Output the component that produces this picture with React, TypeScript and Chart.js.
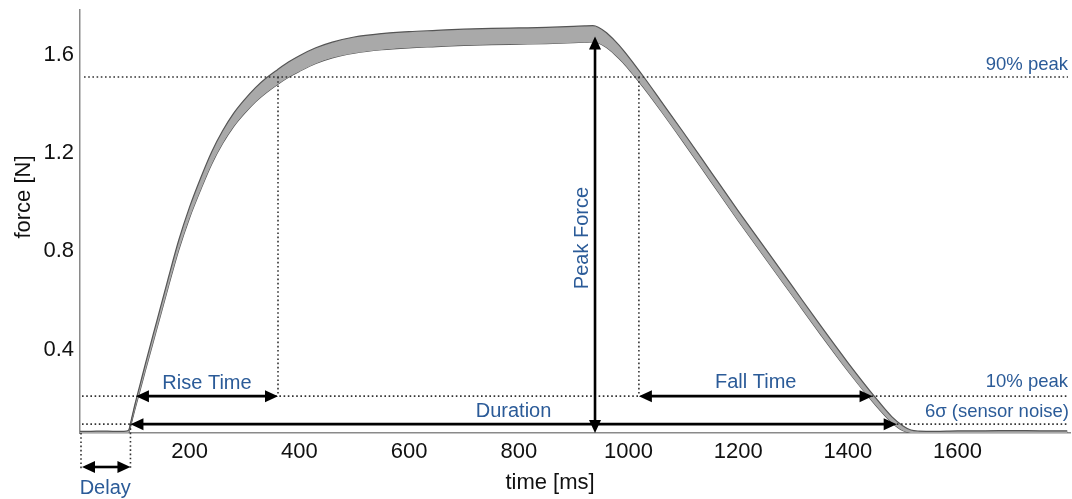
import { useEffect, useRef } from "react";
import { Chart, registerables } from "chart.js";

Chart.register(...registerables);

// ---- data ----
const timeMs = [0, 20, 40, 60, 80, 88, 95, 100, 110, 120, 140, 160, 180, 200, 220, 240, 260, 280, 300, 320, 340, 360, 380, 400, 430, 460, 500, 550, 600, 650, 700, 750, 800, 850, 900, 920, 935, 945, 960, 975, 990, 1010, 1030, 1060, 1100, 1150, 1200, 1250, 1300, 1350, 1400, 1450, 1480, 1500, 1515, 1530, 1560, 1600, 1650, 1700, 1750, 1800];
const meanForce = [0.063, 0.063, 0.064, 0.063, 0.063, 0.065, 0.12, 0.165, 0.25, 0.335, 0.5, 0.665, 0.825, 0.96, 1.075, 1.18, 1.265, 1.335, 1.39, 1.438, 1.477, 1.51, 1.54, 1.565, 1.597, 1.62, 1.64, 1.654, 1.662, 1.667, 1.672, 1.675, 1.677, 1.679, 1.683, 1.685, 1.686, 1.681, 1.66, 1.63, 1.595, 1.54, 1.482, 1.39, 1.265, 1.105, 0.945, 0.79, 0.635, 0.48, 0.33, 0.19, 0.115, 0.08, 0.066, 0.063, 0.062, 0.064, 0.063, 0.065, 0.063, 0.064];
const bandHalf = [0.004, 0.004, 0.004, 0.004, 0.004, 0.005, 0.008, 0.01, 0.012, 0.014, 0.016, 0.018, 0.02, 0.022, 0.024, 0.025, 0.026, 0.027, 0.028, 0.029, 0.03, 0.03, 0.031, 0.032, 0.032, 0.032, 0.033, 0.033, 0.033, 0.033, 0.033, 0.033, 0.033, 0.033, 0.033, 0.033, 0.033, 0.032, 0.03, 0.028, 0.026, 0.024, 0.022, 0.02, 0.02, 0.02, 0.02, 0.02, 0.019, 0.018, 0.017, 0.015, 0.012, 0.01, 0.006, 0.005, 0.005, 0.005, 0.006, 0.005, 0.006, 0.005];

const xTicks = [200, 400, 600, 800, 1000, 1200, 1400, 1600];
const yTicks = [0.4, 0.8, 1.2, 1.6];

// annotation values
const peakForce = 1.675;
const level90 = 1.51;
const level10 = 0.21;
const noise6s = 0.096;
const delayEnd = 92;
const riseStart = 102;
const riseEnd = 361;
const peakTime = 939;
const fallStart = 1019;
const fallEnd = 1445;
const durationEnd = 1489;

const BLUE = "#2b5b98";
const FONT = "'Liberation Sans', Arial, sans-serif";

function arrowHead(ctx: CanvasRenderingContext2D, x: number, y: number, angle: number) {
  const len = 13;
  const half = 6;
  ctx.save();
  ctx.translate(x, y);
  ctx.rotate(angle);
  ctx.beginPath();
  ctx.moveTo(0, 0);
  ctx.lineTo(-len, -half);
  ctx.lineTo(-len, half);
  ctx.closePath();
  ctx.fill();
  ctx.restore();
}

function arrow(ctx: CanvasRenderingContext2D, x1: number, y1: number, x2: number, y2: number) {
  const ang = Math.atan2(y2 - y1, x2 - x1);
  const inset = 10;
  ctx.save();
  ctx.strokeStyle = "#000";
  ctx.fillStyle = "#000";
  ctx.lineWidth = 2.6;
  ctx.beginPath();
  ctx.moveTo(x1 + Math.cos(ang) * inset, y1 + Math.sin(ang) * inset);
  ctx.lineTo(x2 - Math.cos(ang) * inset, y2 - Math.sin(ang) * inset);
  ctx.stroke();
  arrowHead(ctx, x2, y2, ang);
  arrowHead(ctx, x1, y1, ang + Math.PI);
  ctx.restore();
}

function dotted(ctx: CanvasRenderingContext2D, x1: number, y1: number, x2: number, y2: number) {
  ctx.save();
  ctx.strokeStyle = "#333";
  ctx.lineWidth = 1.6;
  ctx.setLineDash([1.6, 2.6]);
  ctx.beginPath();
  ctx.moveTo(x1, y1);
  ctx.lineTo(x2, y2);
  ctx.stroke();
  ctx.restore();
}

const annotationPlugin = {
  id: "forceAnnotations",
  afterDatasetsDraw(chart: any) {
    const ctx: CanvasRenderingContext2D = chart.ctx;
    const xs = chart.scales.x;
    const ys = chart.scales.y;
    const area = chart.chartArea;
    const X = (v: number) => xs.getPixelForValue(v);
    const Y = (v: number) => ys.getPixelForValue(v);
    const left = area.left + 2;
    const right = area.right - 2;

    // horizontal reference levels
    dotted(ctx, left + 2, Y(level90), right, Y(level90));
    dotted(ctx, left, Y(level10), right, Y(level10));
    dotted(ctx, left, Y(noise6s), right, Y(noise6s));

    // vertical reference lines
    dotted(ctx, X(riseEnd), Y(level90), X(riseEnd), Y(level10));
    dotted(ctx, X(fallStart), Y(level90), X(fallStart), Y(level10));
    dotted(ctx, X(0) + 1, area.bottom, X(0) + 1, area.bottom + 37);
    dotted(ctx, X(delayEnd), Y(noise6s), X(delayEnd), area.bottom + 37);

    // arrows
    arrow(ctx, X(riseStart), Y(level10), X(riseEnd), Y(level10));
    arrow(ctx, X(fallStart), Y(level10), X(fallEnd), Y(level10));
    arrow(ctx, X(delayEnd), Y(noise6s), X(durationEnd), Y(noise6s));
    arrow(ctx, X(peakTime), area.bottom, X(peakTime), Y(peakForce));
    arrow(ctx, X(0) + 2, area.bottom + 34, X(delayEnd), area.bottom + 34);

    // labels
    ctx.save();
    ctx.fillStyle = BLUE;
    ctx.textBaseline = "middle";
    ctx.font = `20px ${FONT}`;
    ctx.textAlign = "center";
    ctx.fillText("Rise Time", (X(riseStart) + X(riseEnd)) / 2, Y(level10) - 13);
    ctx.fillText("Fall Time", (X(fallStart) + X(fallEnd)) / 2, Y(level10) - 14);
    ctx.fillText("Duration", (X(delayEnd) + X(durationEnd)) / 2, Y(noise6s) - 13);
    ctx.fillText("Delay", (X(0) + X(delayEnd)) / 2, area.bottom + 55);
    ctx.save();
    ctx.translate(X(peakTime) - 13, 238);
    ctx.rotate(-Math.PI / 2);
    ctx.fillText("Peak Force", 0, 0);
    ctx.restore();
    ctx.font = `18.5px ${FONT}`;
    ctx.textAlign = "right";
    ctx.fillText("90% peak", 1068, Y(level90) - 12);
    ctx.fillText("10% peak", 1068, Y(level10) - 14);
    ctx.fillText("6σ (sensor noise)", 1069, Y(noise6s) - 12);

    // axis titles
    ctx.fillStyle = "#111";
    ctx.font = `22px ${FONT}`;
    ctx.textAlign = "center";
    ctx.fillText("time [ms]", 550, 483);
    ctx.save();
    ctx.translate(24, 197);
    ctx.rotate(-Math.PI / 2);
    ctx.fillText("force [N]", 0, 0);
    ctx.restore();
    ctx.restore();
  },
};

export default function App() {
  const ref = useRef<HTMLCanvasElement | null>(null);

  useEffect(() => {
    if (!ref.current) return;
    const upper = timeMs.map((t, i) => ({ x: t, y: meanForce[i] + bandHalf[i] }));
    const lower = timeMs.map((t, i) => ({ x: t, y: meanForce[i] - bandHalf[i] }));
    const mean = timeMs.map((t, i) => ({ x: t, y: meanForce[i] }));

    const chart = new Chart(ref.current, {
      type: "line",
      data: {
        datasets: [
          {
            data: upper,
            borderColor: "#555",
            borderWidth: 1.2,
            backgroundColor: "#a9a9a9",
            fill: "+1",
            pointRadius: 0,
            cubicInterpolationMode: "monotone",
          },
          {
            data: lower,
            borderColor: "#555",
            borderWidth: 1.2,
            fill: false,
            pointRadius: 0,
            cubicInterpolationMode: "monotone",
          },
          {
            data: mean,
            borderColor: "#505050",
            borderWidth: 1.3,
            fill: false,
            pointRadius: 0,
            cubicInterpolationMode: "monotone",
          },
        ],
      },
      options: {
        animation: false,
        responsive: true,
        maintainAspectRatio: false,
        layout: { padding: { left: 0, top: 10, right: 2, bottom: 0 } },
        plugins: { legend: { display: false }, tooltip: { enabled: false } },
        scales: {
          x: {
            type: "linear",
            min: 0,
            max: 1805,
            afterBuildTicks: (s: any) => {
              s.ticks = xTicks.map((v) => ({ value: v }));
            },
            afterFit: (s: any) => {
              s.height = 66;
              s.paddingLeft = 0;
              s.paddingRight = 0;
            },
            grid: { display: true, drawOnChartArea: false, drawTicks: false, color: "rgba(0,0,0,0)" },
            border: { display: true, color: "#8a8a8a", width: 1.5 },
            ticks: {
              padding: 6,
              color: "#111",
              font: { family: FONT, size: 22 },
              maxRotation: 0,
              autoSkip: false,
              callback: (v: any) => String(v),
            },
          },
          y: {
            type: "linear",
            min: 0.06,
            max: 1.783,
            afterBuildTicks: (s: any) => {
              s.ticks = yTicks.map((v) => ({ value: v }));
            },
            afterFit: (s: any) => {
              s.width = 80;
              s.paddingTop = 0;
              s.paddingBottom = 0;
            },
            grid: { display: true, drawOnChartArea: false, drawTicks: false, color: "rgba(0,0,0,0)" },
            border: { display: true, color: "#8a8a8a", width: 1.5 },
            ticks: {
              padding: 6,
              color: "#111",
              font: { family: FONT, size: 22 },
              callback: (v: any) => Number(v).toFixed(1),
            },
          },
        },
      },
      plugins: [annotationPlugin],
    });
    return () => chart.destroy();
  }, []);

  return (
    <div style={{ position: "fixed", left: 0, top: 0, width: 1072, height: 499, background: "#fff" }}>
      <canvas ref={ref} />
    </div>
  );
}
